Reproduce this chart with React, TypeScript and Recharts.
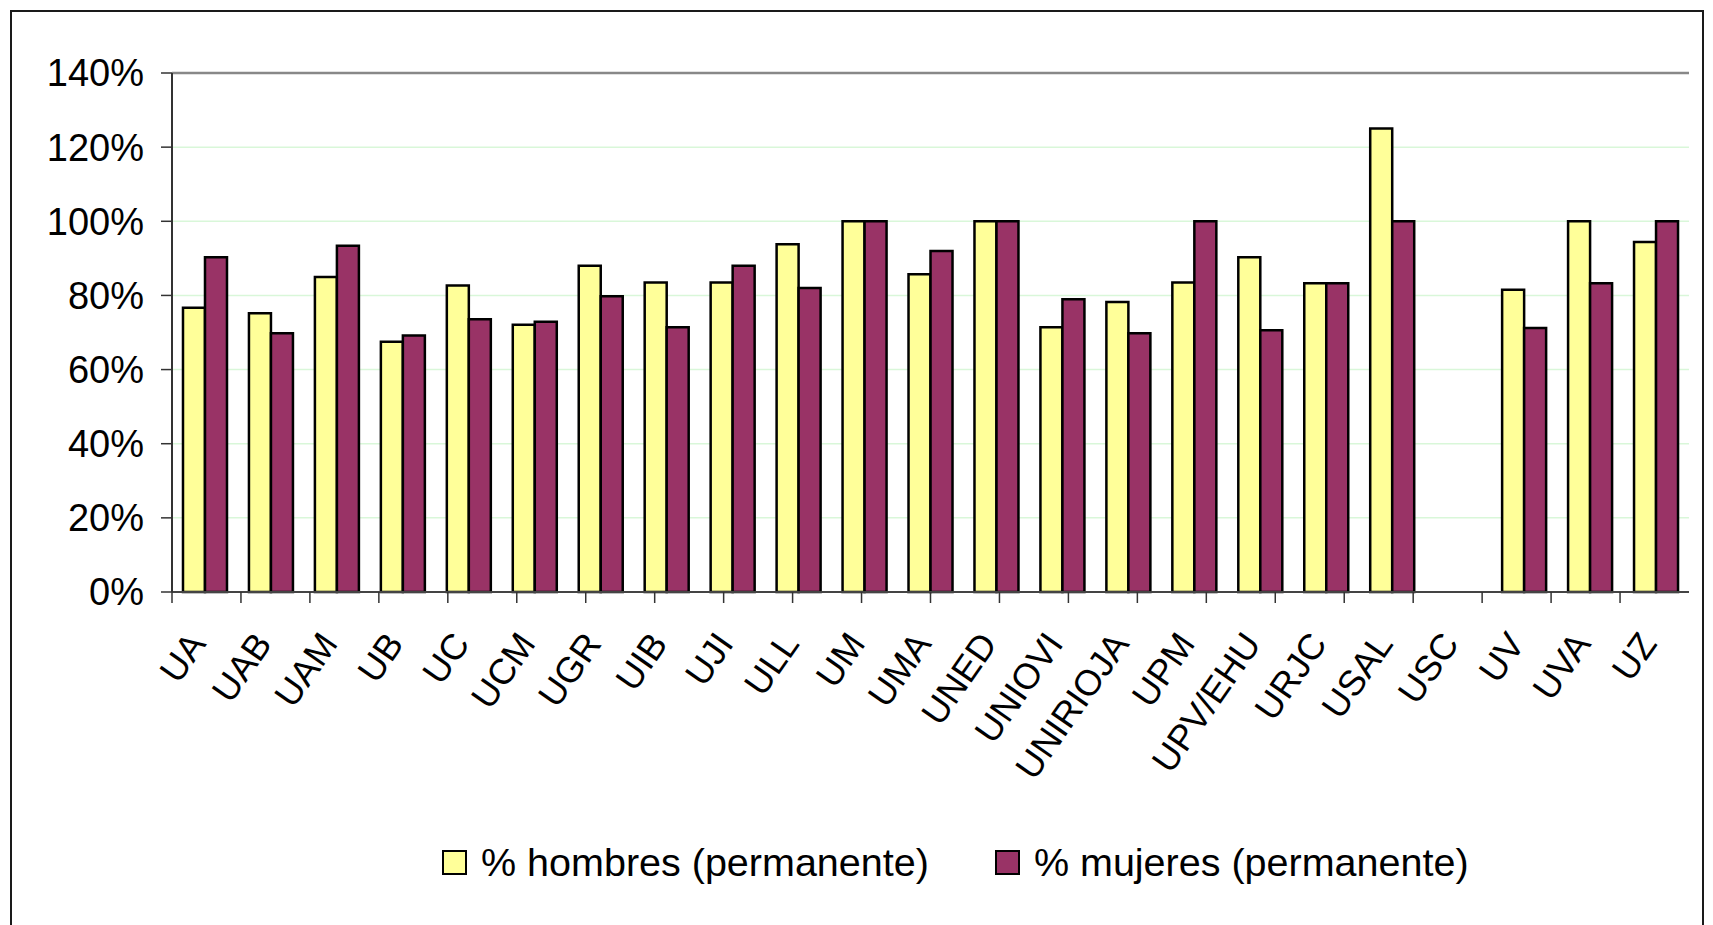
import { BarChart, Bar, XAxis, YAxis, CartesianGrid, Legend, ReferenceLine } from 'recharts'

const universidades = [
  'UA', 'UAB', 'UAM', 'UB', 'UC', 'UCM', 'UGR', 'UIB', 'UJI', 'ULL', 'UM', 'UMA',
  'UNED', 'UNIOVI', 'UNIRIOJA', 'UPM', 'UPV/EHU', 'URJC', 'USAL', 'USC', 'UV', 'UVA', 'UZ',
]

// % hombres (permanente)
const hombres = [
  0.767, 0.752, 0.85, 0.675, 0.827, 0.721, 0.88, 0.835, 0.835, 0.938, 1.0, 0.857,
  1.0, 0.714, 0.782, 0.835, 0.903, 0.833, 1.25, null, 0.815, 1.0, 0.944,
]

// % mujeres (permanente)
const mujeres = [
  0.903, 0.698, 0.934, 0.692, 0.736, 0.729, 0.798, 0.714, 0.88, 0.82, 1.0, 0.92,
  1.0, 0.79, 0.698, 1.0, 0.706, 0.833, 1.0, null, 0.712, 0.833, 1.0,
]

const yTicks = [0, 0.2, 0.4, 0.6, 0.8, 1.0, 1.2, 1.4]
const boundaryTicks = universidades.map((_, i) => i).concat([universidades.length])

const data = universidades.map((uni, i) => ({ uni, hombres: hombres[i], mujeres: mujeres[i] }))

const FONT = '"Liberation Sans", Arial, Helvetica, sans-serif'

function UniTick(props: { x?: number; y?: number; payload?: { value: string } }) {
  const { x = 0, y = 0, payload } = props
  const tx = x + 2
  const ty = y + 51
  return (
    <text
      x={tx}
      y={ty}
      transform={`rotate(-55, ${tx}, ${ty})`}
      textAnchor="end"
      fontSize={36}
      fontFamily={FONT}
      fill="#000"
    >
      {payload?.value}
    </text>
  )
}

function EmptyTick() {
  return <g />
}

function LegendBox(props: { payload?: Array<{ value: string; color: string }> }) {
  const items = props.payload ?? []
  return (
    <div style={{ display: 'flex', alignItems: 'center', fontFamily: FONT, fontSize: 39.5, color: '#000' }}>
      {items.map((it, i) => (
        <div key={i} style={{ display: 'flex', alignItems: 'center', marginRight: i === 0 ? 66 : 0 }}>
          <span
            style={{
              display: 'inline-block',
              width: 21,
              height: 21,
              background: it.color,
              border: '2px solid #000',
              marginRight: 14,
            }}
          />
          <span>{it.value}</span>
        </div>
      ))}
    </div>
  )
}

export default function App() {
  return (
    <div style={{ position: 'absolute', left: 0, top: 0, width: 1713, height: 925, overflow: 'hidden', background: '#fff' }}>
      <div
        style={{
          position: 'absolute',
          left: 10,
          top: 10,
          width: 1690,
          height: 925,
          border: '2px solid #1a1a1a',
          borderBottom: 'none',
        }}
      />
      <div style={{ position: 'absolute', left: 0, top: 0 }}>
        <BarChart
          width={1713}
          height={925}
          data={data}
          margin={{ top: 73, right: 24, left: 12, bottom: 331 }}
          barCategoryGap="16.67%"
          barGap={0}
        >
          <CartesianGrid xAxisId="cat" vertical={false} stroke="#d9f7d9" strokeWidth={1.5} />
          <XAxis
            xAxisId="b"
            type="number"
            domain={[0, universidades.length]}
            ticks={boundaryTicks}
            allowDataOverflow
            height={1}
            axisLine={{ stroke: '#444', strokeWidth: 2 }}
            tickSize={11}
            tickLine={{ stroke: '#333', strokeWidth: 1.5 }}
            tick={<EmptyTick />}
          />
          <XAxis
            xAxisId="cat"
            dataKey="uni"
            height={1}
            interval={0}
            tickLine={false}
            tickSize={0}
            tickMargin={0}
            axisLine={false}
            tick={<UniTick />}
          />
          <YAxis
            domain={[0, 1.4]}
            ticks={yTicks}
            width={160}
            tickSize={11}
            tickMargin={17}
            tickFormatter={(v: number) => `${Math.round(v * 100)}%`}
            tick={{ fill: '#000', fontSize: 38, fontFamily: FONT }}
            tickLine={{ stroke: '#333', strokeWidth: 1.5 }}
            axisLine={{ stroke: '#333', strokeWidth: 2 }}
          />
          <YAxis
            yAxisId="r"
            orientation="right"
            width={0}
            tick={false}
            tickLine={false}
            axisLine={{ stroke: '#888', strokeWidth: 2.5 }}
          />
          <ReferenceLine xAxisId="cat" y={1.4} stroke="#888" strokeWidth={2.5} />
          <Legend
            layout="horizontal"
            verticalAlign="middle"
            align="center"
            wrapperStyle={{ position: 'absolute', top: 840, left: 442, width: 'auto' }}
            content={<LegendBox />}
          />
          <Bar
            xAxisId="cat"
            dataKey="hombres"
            name="% hombres (permanente)"
            fill="#ffff99"
            stroke="#000"
            strokeWidth={2.5}
            isAnimationActive={false}
          />
          <Bar
            xAxisId="cat"
            dataKey="mujeres"
            name="% mujeres (permanente)"
            fill="#993366"
            stroke="#000"
            strokeWidth={2.5}
            isAnimationActive={false}
          />
        </BarChart>
      </div>
    </div>
  )
}
